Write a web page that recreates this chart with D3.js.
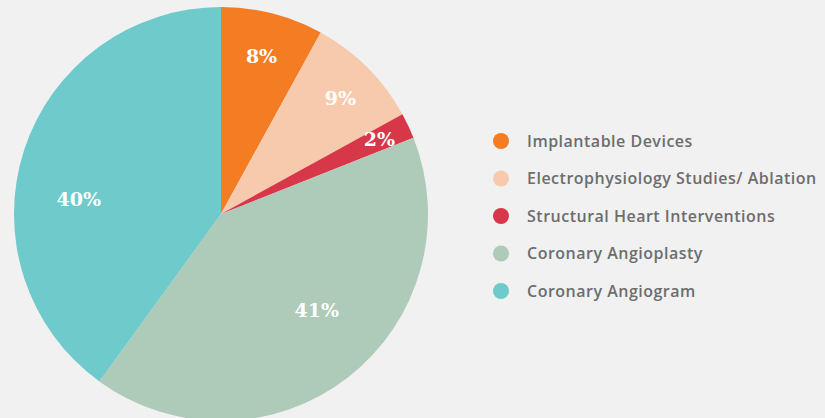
<!DOCTYPE html>
<html><head><meta charset="utf-8">
<script src="https://cdn.jsdelivr.net/npm/d3@7"></script>
<style>html,body{margin:0;padding:0;background:#f1f1f1;}svg{display:block;}</style>
</head><body>
<svg id="c" width="825" height="418"></svg>
<script>
const categories = ["Implantable Devices","Electrophysiology Studies/ Ablation","Structural Heart Interventions","Coronary Angioplasty","Coronary Angiogram"];
const values = [8, 9, 2, 41, 40];
const colors = ["#f47c22","#f8caad","#d8374a","#aecab9","#6fcacb"];

// label placement tweaks (angle offset in degrees, radius)
const labelAngleOffset = [0, 1, 0, -7, -12];
const labelRadius = [163, 166, 175, 136, 143];

const svg = d3.select("#c");
const cx = 221, cy = 214, R = 207;
const g = svg.append("g").attr("transform", `translate(${cx},${cy})`);
const pie = d3.pie().sort(null).value(d => d)(values);
const arc = d3.arc().innerRadius(0).outerRadius(R);
const color = d3.scaleOrdinal().domain(categories).range(colors);

g.selectAll("path.s").data(pie).join("path")
  .attr("d", arc)
  .attr("fill", (d,i) => color(categories[i]));

g.selectAll("text.l").data(pie).join("text")
  .attr("transform", (d,i) => {
    const a = (d.startAngle + d.endAngle)/2 + labelAngleOffset[i]*Math.PI/180;
    const r = labelRadius[i];
    return `translate(${r*Math.sin(a)},${-r*Math.cos(a)})`;
  })
  .attr("text-anchor","middle").attr("dy","0.35em")
  .attr("fill","#fff")
  .style("font-family","'DejaVu Serif', serif").style("font-weight","bold").style("font-size","19px")
  .text(d => d.value + "%");

const ly = d3.scalePoint().domain(categories).range([141, 291]);
const lg = svg.append("g");
const item = lg.selectAll("g").data(categories).join("g")
  .attr("transform", d => `translate(501,${ly(d)})`);
item.append("circle").attr("r", 8).attr("fill", d => color(d));
item.append("text").attr("x", 26).attr("dy","0.35em")
  .attr("fill","#6d6d6d")
  .style("font-family","'Open Sans', sans-serif").style("font-weight","600").style("font-size","16px")
  .style("letter-spacing","0.5px")
  .text(d => d);
</script>
</body></html>
